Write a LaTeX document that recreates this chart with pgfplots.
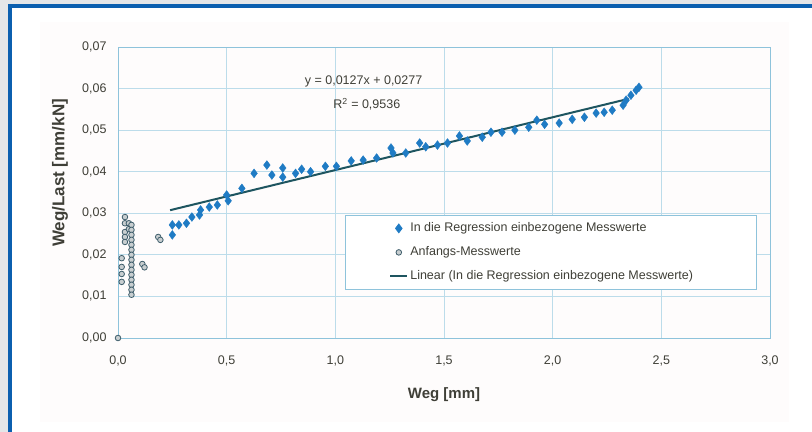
\documentclass[border=0pt]{standalone}
\usepackage{pgfplots}
\pgfplotsset{compat=1.18}
\usepackage{fontspec}
\setmainfont{Liberation Sans}
\definecolor{framegrey}{HTML}{E4E6E8}
\definecolor{frameblue}{HTML}{0B5FAF}
\definecolor{gridblue}{HTML}{BCDCEA}
\definecolor{axisblue}{HTML}{8EC3DB}
\definecolor{txt}{HTML}{3F3F37}
\definecolor{dia}{HTML}{1F7BC4}
\definecolor{circd}{HTML}{3E5D6B}
\definecolor{circf}{HTML}{C8CED0}
\definecolor{regl}{HTML}{1E5560}
\definecolor{chartbg}{HTML}{FEFCFC}
\begin{document}
\begin{tikzpicture}
\path[use as bounding box] (0,0) rectangle (812bp,432bp);
\fill[framegrey] (0,0) rectangle (812bp,432bp);
\fill[frameblue] (8bp,0) rectangle (812bp,428bp);
\fill[white] (12bp,0) rectangle (812bp,424bp);
\fill[chartbg] (40bp,10bp) rectangle (789bp,410bp);
\begin{axis}[
  at={(118bp,94bp)}, anchor=south west,
  scale only axis, width=652bp, height=291bp,
  xmin=0, xmax=3, ymin=0, ymax=0.07,
  xtick={0,0.5,1,1.5,2,2.5,3},
  ytick={0,0.01,0.02,0.03,0.04,0.05,0.06,0.07},
  grid=major,
  major grid style={gridblue, line width=0.8bp},
  axis line style={axisblue, line width=1bp},
  major tick length=0pt,
  tick label style={font=\fontsize{12.5bp}{15bp}\selectfont, text=txt},
  /pgf/number format/assume math mode=true,
  xticklabel style={/pgf/number format/.cd, fixed, fixed zerofill, precision=1, use comma, /tikz/.cd, yshift=-14bp},
  yticklabel style={/pgf/number format/.cd, fixed, fixed zerofill, precision=2, use comma, /tikz/.cd, xshift=-8bp},
  scaled y ticks=false,
  xlabel={Weg [mm]},
  ylabel={Weg/Last [mm/kN]},
  xlabel style={at={(axis description cs:0.5,0)}, anchor=center, yshift=-57bp, font=\bfseries\fontsize{15bp}{18bp}\selectfont, text=txt},
  ylabel style={at={(axis description cs:0,0.567)}, anchor=center, yshift=58bp, font=\bfseries\fontsize{17bp}{20bp}\selectfont, text=txt},
  legend style={at={(0.348,0.4227)}, anchor=north west, draw=axisblue, fill=white, line width=0.8bp,
    font=\fontsize{12.5bp}{15bp}\selectfont, text=txt, inner xsep=44bp, inner ysep=7bp, row sep=12bp,
    nodes={inner ysep=0pt, text height=9bp, text depth=3bp}},
  legend cell align=left,
  clip=false,
]
\addplot[only marks, mark=diamond*, mark size=4.4bp, color=dia, mark options={fill=dia, draw=dia}] coordinates {
(0.25,0.0248) (0.25,0.0272) (0.28,0.0272) (0.315,0.0276) (0.34,0.0291)
(0.375,0.0296) (0.38,0.0308) (0.42,0.0315) (0.457,0.0320) (0.50,0.0344)
(0.507,0.0330) (0.57,0.0360) (0.626,0.0396) (0.685,0.0416) (0.708,0.0392)
(0.758,0.0409) (0.758,0.0387) (0.817,0.0396) (0.845,0.0406) (0.886,0.0400)
(0.954,0.0413) (1.005,0.0413) (1.073,0.0426) (1.128,0.0428) (1.19,0.0433)
(1.256,0.0457) (1.265,0.0445) (1.324,0.0445) (1.388,0.0469) (1.416,0.0460)
(1.47,0.0464) (1.516,0.0469) (1.571,0.0486) (1.607,0.0474) (1.676,0.0483)
(1.716,0.0495) (1.767,0.0495) (1.826,0.0500) (1.89,0.0507) (1.927,0.0524)
(1.963,0.0514) (2.03,0.0517) (2.09,0.0526) (2.146,0.0531) (2.20,0.0541)
(2.237,0.0543) (2.274,0.0548) (2.324,0.0560) (2.338,0.0572) (2.36,0.0584)
(2.384,0.0596) (2.397,0.0603)
};
\addlegendentry{\makebox[300bp][l]{In die Regression einbezogene Messwerte}}
\addplot[only marks, mark=*, mark size=2.8bp, mark options={fill=circf, draw=circd, line width=0.8bp}] coordinates {
(0,0)
(0.017,0.0192) (0.017,0.0171) (0.017,0.0154) (0.017,0.0135)
(0.032,0.0291) (0.032,0.0276) (0.032,0.0255) (0.032,0.0243) (0.032,0.0231)
(0.05,0.0276) (0.05,0.0262)
(0.062,0.0272) (0.062,0.0260) (0.062,0.0248) (0.062,0.0236) (0.062,0.0224)
(0.062,0.0212) (0.062,0.0200) (0.062,0.0188) (0.062,0.0176) (0.062,0.0164)
(0.062,0.0152) (0.062,0.0140) (0.062,0.0128) (0.062,0.0116) (0.062,0.0104)
(0.112,0.0178) (0.122,0.0170)
(0.185,0.0243) (0.195,0.0236)
};
\addlegendentry{Anfangs-Messwerte}
\addplot[regl, line width=2bp, mark=none] coordinates {(0.24,0.030748) (2.35,0.057545)};
\addlegendentry{Linear (In die Regression einbezogene Messwerte)}
\node[font=\fontsize{12.5bp}{15bp}\selectfont, text=txt] at (axis cs:1.13,0.0617) {y = 0,0127x + 0,0277};
\node[font=\fontsize{12.5bp}{15bp}\selectfont, text=txt] at (axis cs:1.145,0.0562) {R\textsuperscript{2} = 0,9536};
\end{axis}
\end{tikzpicture}
\end{document}
